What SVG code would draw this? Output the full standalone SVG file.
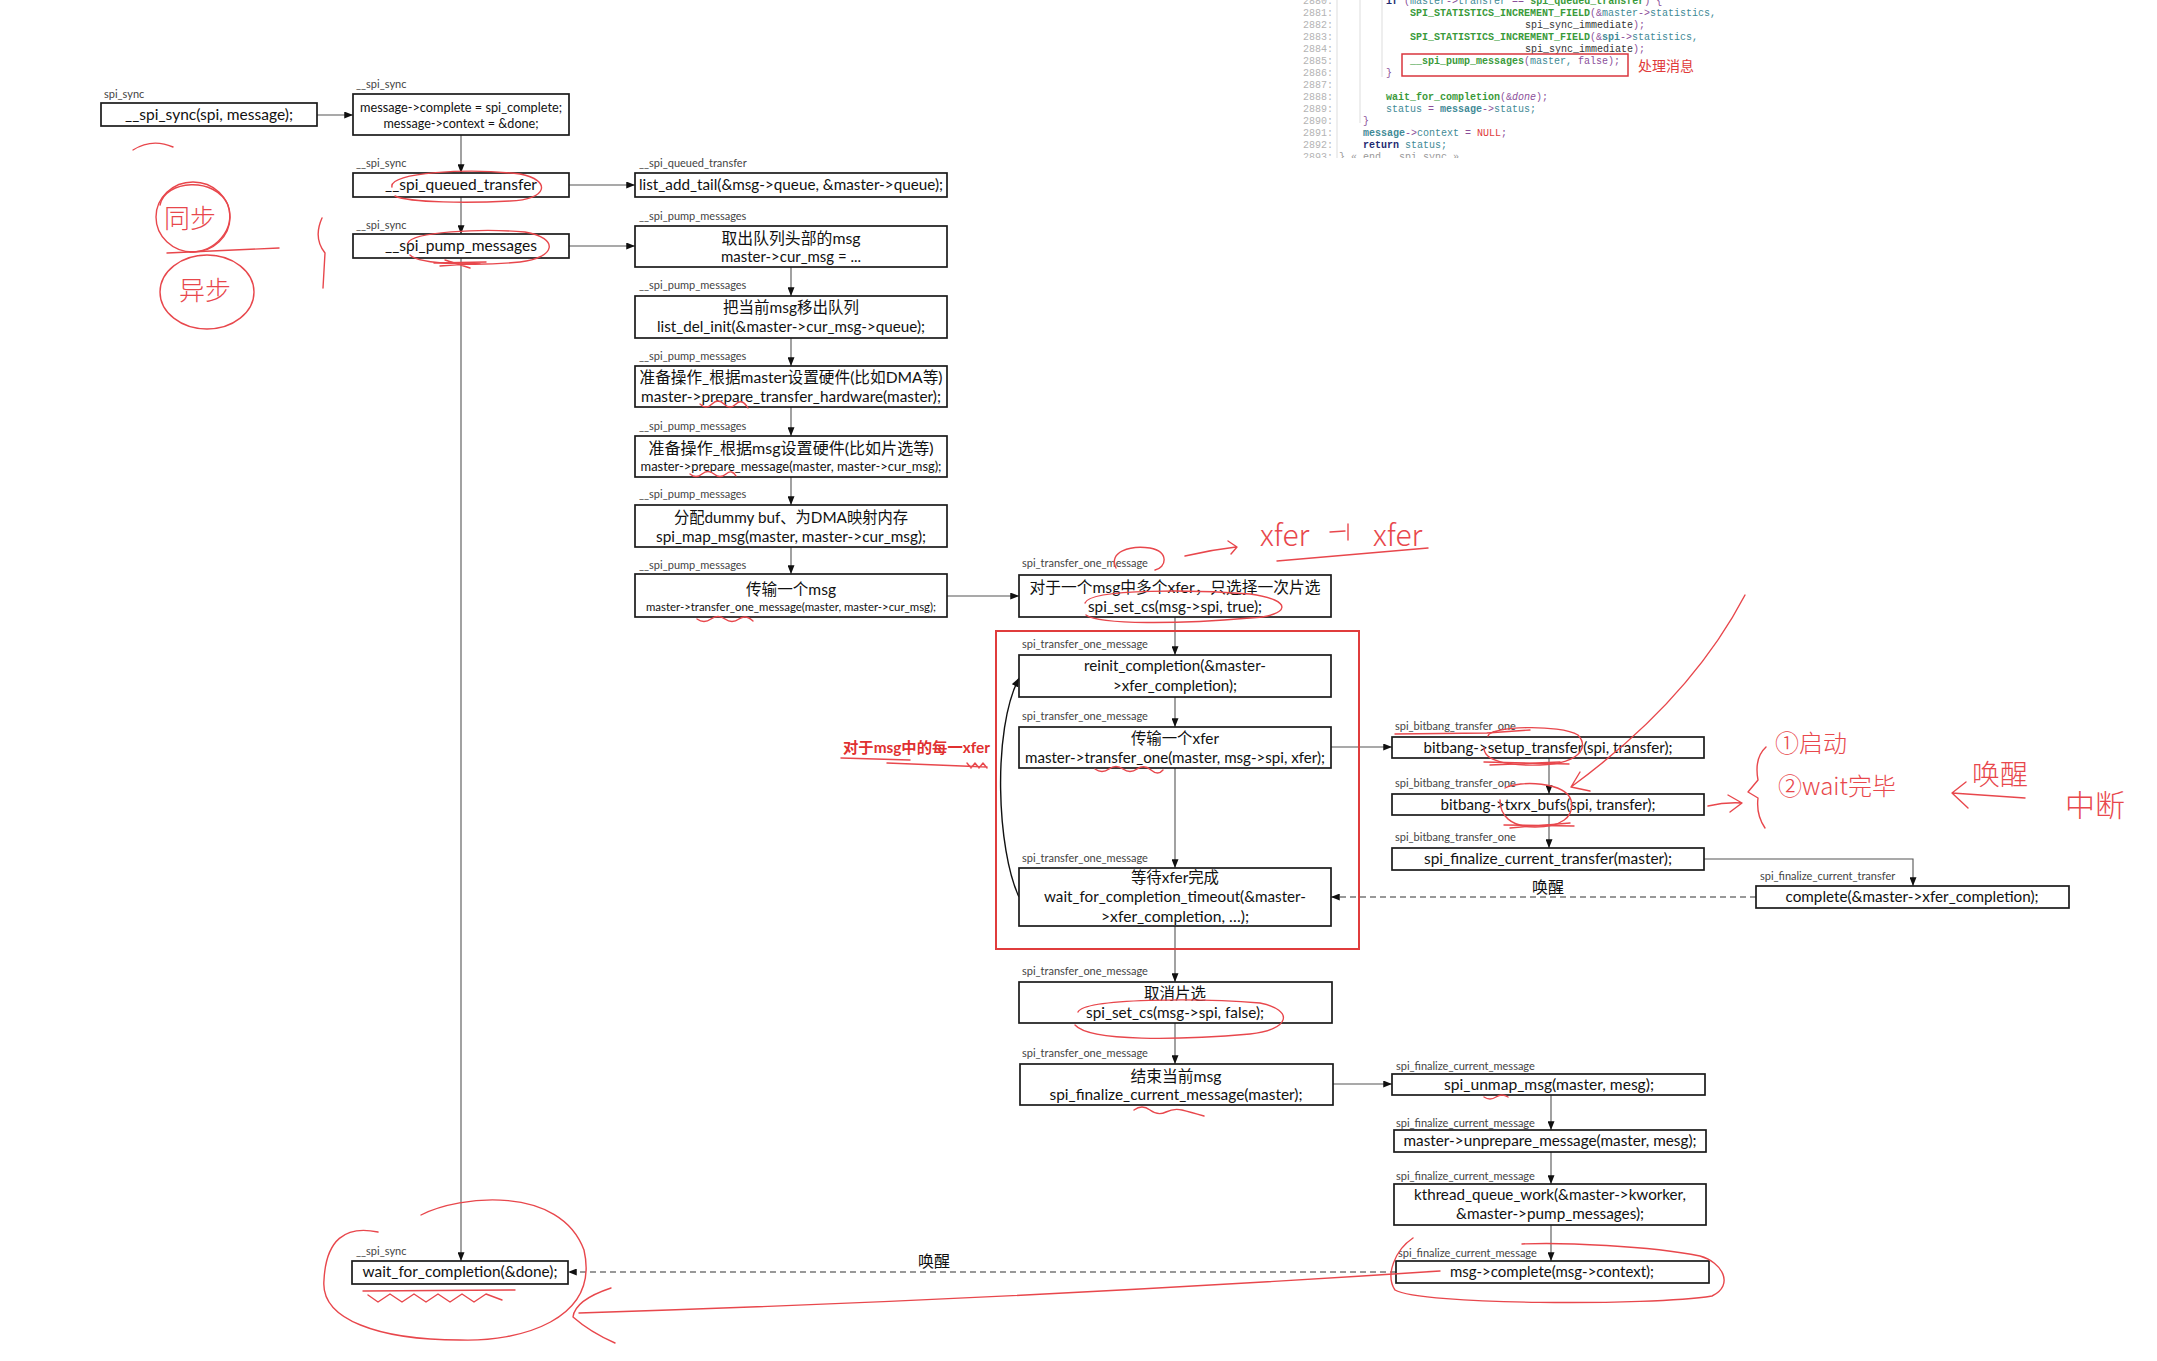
<svg xmlns="http://www.w3.org/2000/svg" width="2157" height="1361" viewBox="0 0 2157 1361">
<style>
.box{fill:#fff;stroke:#1a1a1a;stroke-width:1.7}
.t{font-family:Lato,"Noto Sans CJK SC",sans-serif;font-size:15px;fill:#111;text-anchor:middle}
.c{font-family:Lato,"Noto Sans CJK SC",sans-serif;font-size:16px;fill:#111;text-anchor:middle}
.s{font-size:13px}
.xs{font-size:11.5px}
.lbl{font-family:Lato,"Noto Sans CJK SC",sans-serif;font-size:11px;fill:#444}
.ln{stroke:#555;stroke-width:1.1;fill:none}
.dash{stroke:#777;stroke-width:1.6;stroke-dasharray:6 4;fill:none}
.hw{stroke:#e8474c;stroke-width:1.4;fill:none;stroke-linecap:round;stroke-linejoin:round}
.hwt{font-family:"Noto Sans CJK SC",sans-serif;font-weight:200;fill:#e8474c}
.code{font-family:"Liberation Mono","DejaVu Sans Mono",monospace;font-size:10px;fill:#333}
.num{fill:#b4b4b4}
.g{fill:#3a9a3a;font-weight:bold}
.p{fill:#8b4f9a}
.tl{fill:#3f8a96}
.kw{fill:#1e2a70;font-weight:bold}
.nl{fill:#e03a3a}
</style>
<defs>
<marker id="ah" viewBox="0 0 10 8" refX="10" refY="4" markerWidth="9" markerHeight="7" orient="auto" markerUnits="userSpaceOnUse"><path d="M0,0 L10,4 L0,8 z" fill="#111"/></marker>
<clipPath id="codeclip"><rect x="1290" y="0" width="500" height="158"/></clipPath>
</defs>
<rect width="2157" height="1361" fill="#fff"/>

<!-- code snippet -->
<g id="code" clip-path="url(#codeclip)">
<line x1="1337" y1="0" x2="1337" y2="158" stroke="#ddd"/>
<line x1="1360" y1="0" x2="1360" y2="123" stroke="#ddd"/>
<line x1="1382" y1="0" x2="1382" y2="77" stroke="#ddd"/>
<g class="code">
<text x="1303" y="4" class="num">2880:</text>
<text x="1303" y="16" class="num">2881:</text>
<text x="1303" y="28" class="num">2882:</text>
<text x="1303" y="40" class="num">2883:</text>
<text x="1303" y="52" class="num">2884:</text>
<text x="1303" y="64" class="num">2885:</text>
<text x="1303" y="76" class="num">2886:</text>
<text x="1303" y="88" class="num">2887:</text>
<text x="1303" y="100" class="num">2888:</text>
<text x="1303" y="112" class="num">2889:</text>
<text x="1303" y="124" class="num">2890:</text>
<text x="1303" y="136" class="num">2891:</text>
<text x="1303" y="148" class="num">2892:</text>
<text x="1303" y="160" class="num">2893:</text>
<text x="1386" y="4" xml:space="preserve"><tspan class="kw">if</tspan> <tspan class="p">(</tspan><tspan class="tl">master</tspan><tspan class="p">-&gt;</tspan><tspan class="tl">transfer</tspan> <tspan class="p">==</tspan> <tspan class="g">spi_queued_transfer</tspan><tspan class="p">) {</tspan></text>
<text x="1410" y="16"><tspan class="g">SPI_STATISTICS_INCREMENT_FIELD</tspan><tspan class="p">(&amp;</tspan><tspan class="tl">master</tspan><tspan class="p">-&gt;</tspan><tspan class="tl">statistics,</tspan></text>
<text x="1525" y="28">spi_sync_immediate<tspan class="p">);</tspan></text>
<text x="1410" y="40"><tspan class="g">SPI_STATISTICS_INCREMENT_FIELD</tspan><tspan class="p">(&amp;</tspan><tspan class="tl" font-weight="bold">spi</tspan><tspan class="p">-&gt;</tspan><tspan class="tl">statistics,</tspan></text>
<text x="1525" y="52">spi_sync_immediate<tspan class="p">);</tspan></text>
<text x="1410" y="64" xml:space="preserve"><tspan class="g">__spi_pump_messages</tspan><tspan class="p">(</tspan><tspan class="tl">master,</tspan> <tspan class="p">false);</tspan></text>
<text x="1386" y="76" class="p">}</text>
<text x="1386" y="100"><tspan class="g">wait_for_completion</tspan><tspan class="p">(&amp;</tspan><tspan class="p" font-style="italic">done</tspan><tspan class="p">);</tspan></text>
<text x="1386" y="112" xml:space="preserve"><tspan class="tl">status</tspan> <tspan class="p">=</tspan> <tspan class="tl" font-weight="bold">message</tspan><tspan class="p">-&gt;</tspan><tspan class="tl">status;</tspan></text>
<text x="1363" y="124" class="p">}</text>
<text x="1363" y="136" xml:space="preserve"><tspan class="tl" font-weight="bold">message</tspan><tspan class="p">-&gt;</tspan><tspan class="tl">context</tspan> <tspan class="p">=</tspan> <tspan class="nl">NULL</tspan><tspan class="p">;</tspan></text>
<text x="1363" y="148" xml:space="preserve"><tspan class="kw">return</tspan> <tspan class="tl">status;</tspan></text>
<text x="1339" y="160" fill="#999" xml:space="preserve">} « end __spi_sync »</text>
</g>
</g>
<rect x="1402" y="54" width="226" height="22" fill="none" stroke="#d9363e" stroke-width="1.5"/>
<text x="1638" y="71" font-family="'Noto Sans CJK SC',sans-serif" fill="#e03a3a" font-size="14">处理消息</text>

<!-- connectors -->
<g id="connectors">
<path class="ln" d="M317,115 H353" marker-end="url(#ah)"/>
<path class="ln" d="M461,135 V173" marker-end="url(#ah)"/>
<path class="ln" d="M461,197 V234" marker-end="url(#ah)"/>
<path class="ln" d="M461,258 V1261" marker-end="url(#ah)"/>
<path class="ln" d="M569,185 H635" marker-end="url(#ah)"/>
<path class="ln" d="M569,246 H635" marker-end="url(#ah)"/>
<path class="ln" d="M791,267 V296" marker-end="url(#ah)"/>
<path class="ln" d="M791,338 V366" marker-end="url(#ah)"/>
<path class="ln" d="M791,407 V436" marker-end="url(#ah)"/>
<path class="ln" d="M791,477 V505" marker-end="url(#ah)"/>
<path class="ln" d="M791,547 V574" marker-end="url(#ah)"/>
<path class="ln" d="M947,596 H1019" marker-end="url(#ah)"/>
<path class="ln" d="M1175,617 V655" marker-end="url(#ah)"/>
<path class="ln" d="M1175,697 V727" marker-end="url(#ah)"/>
<path class="ln" d="M1175,768 V868" marker-end="url(#ah)"/>
<path class="ln" d="M1175,926 V982" marker-end="url(#ah)"/>
<path class="ln" d="M1175,1023 V1064" marker-end="url(#ah)"/>
<path d="M1019,897 C997,850 992,730 1019,678" fill="none" stroke="#111" stroke-width="1.4" marker-end="url(#ah)"/>
<path class="ln" d="M1331,747 H1392" marker-end="url(#ah)"/>
<path class="ln" d="M1549,758 V794" marker-end="url(#ah)"/>
<path class="ln" d="M1549,815 V848" marker-end="url(#ah)"/>
<path class="ln" d="M1704,859 H1913 V886" marker-end="url(#ah)"/>
<path class="dash" d="M1756,897 H1331" marker-end="url(#ah)"/>
<text x="1548" y="893" class="c" font-size="15">唤醒</text>
<path class="ln" d="M1333,1084 H1392" marker-end="url(#ah)"/>
<path class="ln" d="M1551,1095 V1130" marker-end="url(#ah)"/>
<path class="ln" d="M1551,1152 V1184" marker-end="url(#ah)"/>
<path class="ln" d="M1551,1225 V1261" marker-end="url(#ah)"/>
<path class="dash" d="M1396,1272 H568" marker-end="url(#ah)"/>
<text x="934" y="1267" class="c" font-size="15">唤醒</text>
</g>

<!-- red loop frame -->
<rect x="996" y="631" width="363" height="318" fill="none" stroke="#e03c3c" stroke-width="2"/>
<text x="843" y="753" font-family="Lato,'Noto Sans CJK SC',sans-serif" font-size="15" font-weight="bold" fill="#e03030" textLength="147" lengthAdjust="spacingAndGlyphs">对于msg中的每一xfer</text>

<!-- nodes -->
<g id="n1"><text x="104" y="98" class="lbl">spi_sync</text><rect class="box" x="101" y="103" width="216" height="23"/><text x="209" y="120" class="t" textLength="168" lengthAdjust="spacingAndGlyphs">__spi_sync(spi, message);</text></g>
<g id="n2"><text x="356" y="88" class="lbl">__spi_sync</text><rect class="box" x="353" y="94" width="216" height="41"/><text x="461" y="112" class="t s" textLength="202" lengthAdjust="spacingAndGlyphs">message-&gt;complete = spi_complete;</text><text x="461" y="128" class="t s" textLength="155" lengthAdjust="spacingAndGlyphs">message-&gt;context = &amp;done;</text></g>
<g id="n3"><text x="356" y="167" class="lbl">__spi_sync</text><rect class="box" x="353" y="173" width="216" height="24"/><text x="461" y="190" class="t" textLength="152" lengthAdjust="spacingAndGlyphs">__spi_queued_transfer</text></g>
<g id="n4"><text x="356" y="229" class="lbl">__spi_sync</text><rect class="box" x="353" y="234" width="216" height="24"/><text x="461" y="251" class="t" textLength="152" lengthAdjust="spacingAndGlyphs">__spi_pump_messages</text></g>
<g id="n5"><text x="639" y="167" class="lbl">__spi_queued_transfer</text><rect class="box" x="635" y="173" width="312" height="24"/><text x="791" y="190" class="t" textLength="304" lengthAdjust="spacingAndGlyphs">list_add_tail(&amp;msg-&gt;queue, &amp;master-&gt;queue);</text></g>
<g id="n6"><text x="639" y="220" class="lbl">__spi_pump_messages</text><rect class="box" x="635" y="226" width="312" height="41"/><text x="791" y="244" class="c" textLength="139" lengthAdjust="spacingAndGlyphs">取出队列头部的msg</text><text x="791" y="262" class="t" textLength="140" lengthAdjust="spacingAndGlyphs">master-&gt;cur_msg = ...</text></g>
<g id="n7"><text x="639" y="289" class="lbl">__spi_pump_messages</text><rect class="box" x="635" y="296" width="312" height="42"/><text x="791" y="313" class="c" textLength="136" lengthAdjust="spacingAndGlyphs">把当前msg移出队列</text><text x="791" y="332" class="t" textLength="268" lengthAdjust="spacingAndGlyphs">list_del_init(&amp;master-&gt;cur_msg-&gt;queue);</text></g>
<g id="n8"><text x="639" y="360" class="lbl">__spi_pump_messages</text><rect class="box" x="635" y="366" width="312" height="41"/><text x="791" y="383" class="c" textLength="303" lengthAdjust="spacingAndGlyphs">准备操作_根据master设置硬件(比如DMA等)</text><text x="791" y="402" class="t" textLength="300" lengthAdjust="spacingAndGlyphs">master-&gt;prepare_transfer_hardware(master);</text></g>
<g id="n9"><text x="639" y="430" class="lbl">__spi_pump_messages</text><rect class="box" x="635" y="436" width="312" height="41"/><text x="791" y="454" class="c" textLength="285" lengthAdjust="spacingAndGlyphs">准备操作_根据msg设置硬件(比如片选等)</text><text x="791" y="471" class="t s" textLength="301" lengthAdjust="spacingAndGlyphs">master-&gt;prepare_message(master, master-&gt;cur_msg);</text></g>
<g id="n10"><text x="639" y="498" class="lbl">__spi_pump_messages</text><rect class="box" x="635" y="505" width="312" height="42"/><text x="791" y="523" class="c" textLength="234" lengthAdjust="spacingAndGlyphs">分配dummy buf、为DMA映射内存</text><text x="791" y="542" class="t" textLength="270" lengthAdjust="spacingAndGlyphs">spi_map_msg(master, master-&gt;cur_msg);</text></g>
<g id="n11"><text x="639" y="569" class="lbl">__spi_pump_messages</text><rect class="box" x="635" y="574" width="312" height="43"/><text x="791" y="595" class="c" textLength="90" lengthAdjust="spacingAndGlyphs">传输一个msg</text><text x="791" y="611" class="t xs" textLength="290" lengthAdjust="spacingAndGlyphs">master-&gt;transfer_one_message(master, master-&gt;cur_msg);</text></g>

<g id="n12"><text x="1022" y="567" class="lbl">spi_transfer_one_message</text><rect class="box" x="1019" y="575" width="312" height="42"/><text x="1175" y="593" class="c" textLength="291" lengthAdjust="spacingAndGlyphs">对于一个msg中多个xfer，只选择一次片选</text><text x="1175" y="612" class="t" textLength="174" lengthAdjust="spacingAndGlyphs">spi_set_cs(msg-&gt;spi, true);</text></g>
<g id="n13"><text x="1022" y="648" class="lbl">spi_transfer_one_message</text><rect class="box" x="1019" y="655" width="312" height="42"/><text x="1175" y="671" class="t" textLength="182" lengthAdjust="spacingAndGlyphs">reinit_completion(&amp;master-</text><text x="1175" y="691" class="t" textLength="124" lengthAdjust="spacingAndGlyphs">&gt;xfer_completion);</text></g>
<g id="n14"><text x="1022" y="720" class="lbl">spi_transfer_one_message</text><rect class="box" x="1019" y="727" width="312" height="41"/><text x="1175" y="744" class="c" textLength="88" lengthAdjust="spacingAndGlyphs">传输一个xfer</text><text x="1175" y="763" class="t" textLength="300" lengthAdjust="spacingAndGlyphs">master-&gt;transfer_one(master, msg-&gt;spi, xfer);</text></g>
<g id="n15"><text x="1022" y="862" class="lbl">spi_transfer_one_message</text><rect class="box" x="1019" y="868" width="312" height="58"/><text x="1175" y="883" class="c" textLength="88" lengthAdjust="spacingAndGlyphs">等待xfer完成</text><text x="1175" y="902" class="t" textLength="262" lengthAdjust="spacingAndGlyphs">wait_for_completion_timeout(&amp;master-</text><text x="1175" y="922" class="t" textLength="148" lengthAdjust="spacingAndGlyphs">&gt;xfer_completion, …);</text></g>
<g id="n16"><text x="1022" y="975" class="lbl">spi_transfer_one_message</text><rect class="box" x="1019" y="982" width="313" height="41"/><text x="1175" y="999" class="c" textLength="62" lengthAdjust="spacingAndGlyphs">取消片选</text><text x="1175" y="1018" class="t" textLength="178" lengthAdjust="spacingAndGlyphs">spi_set_cs(msg-&gt;spi, false);</text></g>
<g id="n17"><text x="1022" y="1057" class="lbl">spi_transfer_one_message</text><rect class="box" x="1020" y="1064" width="313" height="41"/><text x="1176" y="1082" class="c" textLength="91" lengthAdjust="spacingAndGlyphs">结束当前msg</text><text x="1176" y="1100" class="t" textLength="253" lengthAdjust="spacingAndGlyphs">spi_finalize_current_message(master);</text></g>

<g id="n18"><text x="1395" y="730" class="lbl">spi_bitbang_transfer_one</text><rect class="box" x="1392" y="737" width="312" height="21"/><text x="1548" y="752.5" class="t" textLength="249" lengthAdjust="spacingAndGlyphs">bitbang-&gt;setup_transfer(spi, transfer);</text></g>
<g id="n19"><text x="1395" y="787" class="lbl">spi_bitbang_transfer_one</text><rect class="box" x="1392" y="794" width="312" height="21"/><text x="1548" y="809.5" class="t" textLength="215" lengthAdjust="spacingAndGlyphs">bitbang-&gt;txrx_bufs(spi, transfer);</text></g>
<g id="n20"><text x="1395" y="841" class="lbl">spi_bitbang_transfer_one</text><rect class="box" x="1392" y="848" width="312" height="22"/><text x="1548" y="864" class="t" textLength="248" lengthAdjust="spacingAndGlyphs">spi_finalize_current_transfer(master);</text></g>
<g id="n21"><text x="1760" y="880" class="lbl">spi_finalize_current_transfer</text><rect class="box" x="1756" y="886" width="313" height="22"/><text x="1912" y="902" class="t" textLength="253" lengthAdjust="spacingAndGlyphs">complete(&amp;master-&gt;xfer_completion);</text></g>

<g id="n22"><text x="1396" y="1070" class="lbl">spi_finalize_current_message</text><rect class="box" x="1392" y="1074" width="313" height="21"/><text x="1549" y="1090" class="t" textLength="210" lengthAdjust="spacingAndGlyphs">spi_unmap_msg(master, mesg);</text></g>
<g id="n23"><text x="1396" y="1127" class="lbl">spi_finalize_current_message</text><rect class="box" x="1394" y="1130" width="312" height="22"/><text x="1550" y="1146" class="t" textLength="293" lengthAdjust="spacingAndGlyphs">master-&gt;unprepare_message(master, mesg);</text></g>
<g id="n24"><text x="1396" y="1180" class="lbl">spi_finalize_current_message</text><rect class="box" x="1394" y="1184" width="312" height="41"/><text x="1550" y="1200" class="t" textLength="272" lengthAdjust="spacingAndGlyphs">kthread_queue_work(&amp;master-&gt;kworker,</text><text x="1550" y="1219" class="t" textLength="188" lengthAdjust="spacingAndGlyphs">&amp;master-&gt;pump_messages);</text></g>
<g id="n25"><text x="1398" y="1257" class="lbl">spi_finalize_current_message</text><rect class="box" x="1396" y="1261" width="313" height="22"/><text x="1552" y="1277" class="t" textLength="204" lengthAdjust="spacingAndGlyphs">msg-&gt;complete(msg-&gt;context);</text></g>
<g id="n26"><text x="356" y="1255" class="lbl">__spi_sync</text><rect class="box" x="352" y="1261" width="216" height="23"/><text x="460" y="1277" class="t" textLength="195" lengthAdjust="spacingAndGlyphs">wait_for_completion(&amp;done);</text></g>

<!-- handwritten annotations -->
<g id="annotations">
<path class="hw" d="M133,150 Q152,138 173,147"/>
<ellipse class="hw" cx="193" cy="217" rx="37" ry="35"/>
<path class="hw" d="M160,205 C165,180 215,176 228,205 C236,230 215,252 190,252"/>
<text x="190" y="228" class="hwt" font-size="26" text-anchor="middle">同步</text>
<path class="hw" d="M167,253 L279,248"/>
<ellipse class="hw" cx="207" cy="292" rx="47" ry="37"/>
<text x="205" y="300" class="hwt" font-size="26" text-anchor="middle">异步</text>
<path class="hw" d="M322,218 Q313,238 325,253 L323,288"/>
<path class="hw" d="M392,187 C388,172 470,168 520,174 C552,180 548,200 510,201 C470,203 410,203 395,196"/>
<path class="hw" d="M408,243 C412,232 480,228 525,232 C560,238 556,258 520,262 C480,266 420,265 410,255"/>
<path class="hw" d="M434,263 L486,262 M440,266 L480,263 M445,260 L470,268"/>
<path class="hw" d="M700,404 q6,6 12,0 t12,0 t12,0 t12,4"/>
<path class="hw" d="M690,474 q6,5 12,0 t12,0 t12,0 t10,2"/>
<path class="hw" d="M697,619 q7,5 14,0 t14,0 t14,0 t14,2"/>
<path class="hw" d="M1116,568 C1108,552 1130,545 1150,548 C1170,552 1166,568 1155,570"/>
<path class="hw" d="M1085,603 C1090,588 1200,590 1250,594 C1295,600 1290,616 1250,618 C1180,624 1100,625 1086,615"/>
<path class="hw" d="M1185,556 Q1210,550 1236,547 M1228,541 L1237,547 L1231,554"/>
<text x="1260" y="546" class="hwt" font-size="30">xfer</text>
<path class="hw" d="M1330,532 L1345,531 M1348,524 L1348,540"/>
<text x="1373" y="546" class="hwt" font-size="30">xfer</text>
<path class="hw" d="M1277,561 L1428,548"/>
<path class="hw" d="M841,758 L910,760 M887,763 L987,767 M967,763 l4,5 l4,-5 l4,5 l4,-5 l4,5"/>
<path class="hw" d="M1095,769 q7,5 14,0 t14,0 t14,0 t14,1 t12,0"/>
<path class="hw" d="M1745,595 Q1690,700 1571,787 M1571,787 L1590,791 M1571,787 L1580,772"/>
<path class="hw" d="M1395,734 L1487,733 M1487,733 L1530,730"/>
<path class="hw" d="M1488,736 C1490,726 1560,724 1578,735 C1590,748 1578,764 1540,765 C1505,766 1484,760 1484,748"/>
<path class="hw" d="M1484,762 L1569,764 M1490,765 L1560,762"/>
<path class="hw" d="M1505,788 C1520,780 1565,782 1571,800 C1575,818 1560,827 1535,827 C1510,827 1500,815 1500,800"/>
<path class="hw" d="M1504,825 L1574,826 M1510,828 L1570,823"/>
<path class="hw" d="M1708,806 Q1725,802 1742,803 M1728,795 L1742,803 L1730,812"/>
<path class="hw" d="M1766,747 Q1754,758 1758,780 L1748,792 L1758,798 Q1756,815 1765,828"/>
<text x="1775" y="752" class="hwt" font-size="24">①启动</text>
<text x="1778" y="795" class="hwt" font-size="24">②wait完毕</text>
<path class="hw" d="M2025,798 L1952,793 M1966,782 L1952,793 L1968,808"/>
<text x="1972" y="785" class="hwt" font-size="28">唤醒</text>
<text x="2065" y="816" class="hwt" font-size="30">中断</text>
<path class="hw" d="M1078,1012 C1085,998 1200,998 1260,1003 C1295,1010 1290,1030 1250,1034 C1180,1040 1090,1042 1075,1025"/>
<path class="hw" d="M1134,1110 q8,-6 16,0 t16,2 t16,-2 t22,6"/>
<path class="hw" d="M1484,1097 q6,4 12,0 t12,0"/>
<path class="hw" d="M1413,1238 C1395,1250 1385,1275 1395,1290 C1420,1305 1650,1306 1712,1296 C1735,1285 1722,1262 1700,1256 C1650,1246 1560,1242 1522,1244"/>
<path class="hw" d="M1440,1271 Q1000,1300 579,1313 M611,1288 Q575,1300 573,1317 Q590,1332 615,1343"/>
<path class="hw" d="M421,1215 C460,1195 560,1185 584,1250 C600,1320 520,1342 460,1340 C380,1340 320,1320 324,1280 C326,1240 345,1225 378,1232"/>
<path class="hw" d="M363,1291 L515,1290 M368,1295 l10,7 l12,-8 l12,8 l12,-8 l12,8 l12,-8 l12,8 l12,-8 l12,8 l12,-8 l16,6"/>
</g>
</svg>
